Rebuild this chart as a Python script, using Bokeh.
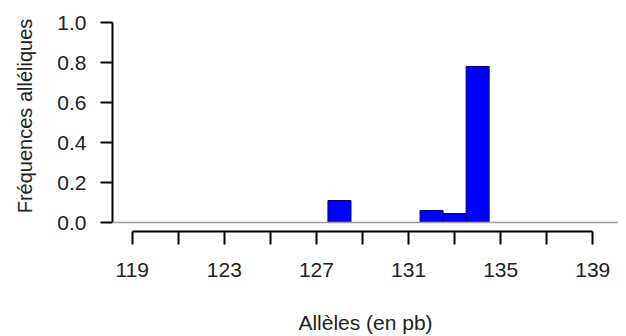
from bokeh.plotting import figure
from bokeh.models import Range1d, FixedTicker, Span
from bokeh.embed import file_html
from bokeh.resources import INLINE

# data
alleles = [128, 132, 133, 134]
freqs = [0.11, 0.06, 0.045, 0.78]
x_major = [119, 123, 127, 131, 135, 139]
x_minor = [121, 125, 129, 133, 137]
y_ticks = [0.0, 0.2, 0.4, 0.6, 0.8, 1.0]
y_labels = ["0.0", "0.2", "0.4", "0.6", "0.8", "1.0"]

FONT = "Liberation Sans"
FS = "21px"

p = figure(frame_width=506, frame_height=231, output_backend="svg", toolbar_location=None,
           x_range=Range1d(118.145, 140.116), y_range=Range1d(-0.045, 1.11),
           min_border_left=112, min_border_right=0, min_border_top=0, min_border_bottom=0)
p.outline_line_color = None
p.xgrid.visible = False
p.ygrid.visible = False

p.add_layout(Span(location=0, dimension="width", line_color="#a0a0a0", line_width=1.5))
p.vbar(x=alleles, top=freqs, bottom=0, width=1.0,
       fill_color="#0000ff", line_color="#000080", line_width=1)

xa = p.xaxis[0]
xa.ticker = FixedTicker(ticks=x_major, minor_ticks=x_minor)
xa.bounds = (x_major[0], x_major[-1])
xa.axis_line_width = 2
xa.major_tick_line_width = 2
xa.minor_tick_line_width = 2
xa.major_tick_out = 13
xa.major_tick_in = 0
xa.minor_tick_out = 13
xa.minor_tick_in = 0
xa.major_label_text_font = FONT
xa.major_label_text_font_size = FS
xa.major_label_text_color = "#222222"
xa.major_label_standoff = 18
xa.axis_label = "Allèles (en pb)"
xa.axis_label_text_font = FONT
xa.axis_label_text_font_size = FS
xa.axis_label_text_font_style = "normal"
xa.axis_label_text_color = "#222222"
xa.axis_label_standoff = 31

ya = p.yaxis[0]
ya.ticker = FixedTicker(ticks=y_ticks, minor_ticks=[])
ya.major_label_overrides = {t: l for t, l in zip(y_ticks, y_labels)}
ya.bounds = (y_ticks[0], y_ticks[-1])
ya.axis_line_width = 2
ya.major_tick_line_width = 2
ya.major_tick_out = 12
ya.major_tick_in = 0
ya.major_label_text_font = FONT
ya.major_label_text_font_size = FS
ya.major_label_text_color = "#222222"
ya.major_label_standoff = 14
ya.axis_label = "Fréquences alléliques"
ya.axis_label_text_font = FONT
ya.axis_label_text_font_size = "20px"
ya.axis_label_text_font_style = "normal"
ya.axis_label_text_color = "#222222"
ya.axis_label_standoff = 18

open("out.html", "w").write(file_html(p, INLINE))
